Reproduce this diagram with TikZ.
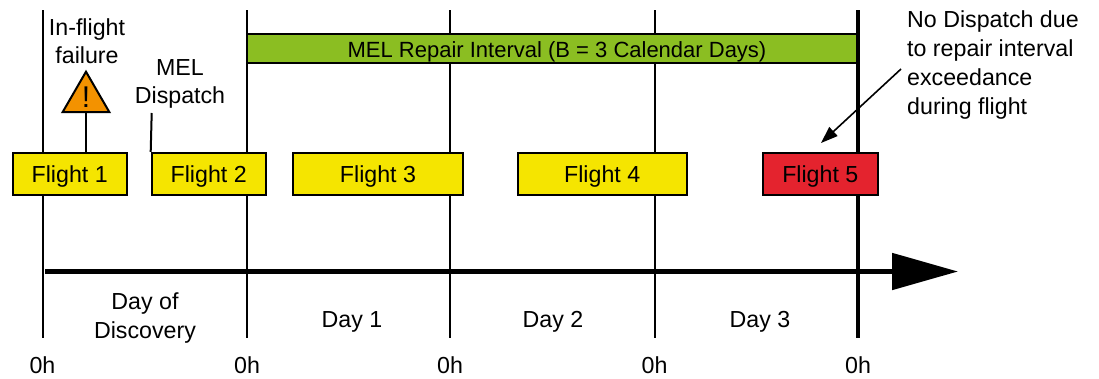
\documentclass[tikz,border=0pt]{standalone}
\usepackage{fontspec}
\setmainfont{Liberation Sans}
\usetikzlibrary{arrows.meta}
\definecolor{flyellow}{RGB}{245,229,0}
\definecolor{mgreen}{RGB}{139,190,34}
\definecolor{fred}{RGB}{228,35,46}
\definecolor{worange}{RGB}{243,146,0}
\begin{document}
\begin{tikzpicture}[x=1pt,y=-1pt,
  lbl/.style={font=\fontsize{23.2}{29}\selectfont, inner sep=0pt, anchor=base},
  flightbox/.style={draw=black, line width=2pt, minimum height=42.3pt, inner sep=0pt,
    font=\fontsize{23.2}{29}\selectfont, text depth=0pt, fill=flyellow},
  dayline/.style={line width=2pt},
  thickline/.style={line width=3.4pt},
  pointer/.style={line width=2pt},
  timeline/.style={line width=5pt, -{Triangle[length=66pt,width=36pt]}},
  callout/.style={line width=1.6pt, -{Triangle[length=17pt,width=12pt]}}
]
\useasboundingbox (0,0) rectangle (1099,378);

% vertical day lines
\coordinate (v0t) at (42.5,10);  \coordinate (v0b) at (42.5,338);
\coordinate (v1t) at (247,10);   \coordinate (v1b) at (247,338);
\coordinate (v2t) at (450,10);   \coordinate (v2b) at (450,338);
\coordinate (v3t) at (654.5,10); \coordinate (v3b) at (654.5,338);
\coordinate (v4t) at (858,10);   \coordinate (v4b) at (858,338);
\draw[dayline] (v0t) -- (v0b);
\draw[dayline] (v1t) -- (v1b);
\draw[dayline] (v2t) -- (v2b);
\draw[dayline] (v3t) -- (v3b);
\draw[thickline] (v4t) -- (v4b);

% timeline
\coordinate (tlstart) at (45,271.5);
\coordinate (tlend) at (958,271.5);
\draw[timeline] (tlstart) -- (tlend);

% repair interval bar
\node[draw=black, line width=2pt, fill=mgreen, minimum width=610pt, minimum height=28.4pt, inner sep=0pt]
  (bar) at (551.7,48.5) {};
\node[lbl, font=\fontsize{22}{28}\selectfont] (barlabel) at (557,57.3) {MEL Repair Interval (B = 3 Calendar Days)};

% flights
\node[flightbox, minimum width=114pt] (f1) at (69.7,174) {Flight 1};
\node[flightbox, minimum width=114pt] (f2) at (208.7,174) {Flight 2};
\node[flightbox, minimum width=169.4pt] (f3) at (378,174) {Flight 3};
\node[flightbox, minimum width=169pt] (f4) at (602.2,174) {Flight 4};
\node[flightbox, minimum width=115.3pt, fill=fred] (f5) at (820.3,174) {Flight 5};

% warning triangle
\coordinate (triapex) at (86,71.7);
\coordinate (trileft) at (62.7,112);
\coordinate (triright) at (109.3,112);
\coordinate (tribase) at (86,112);
\draw[line width=2pt, line join=miter, fill=worange] (triapex) -- (triright) -- (trileft) -- cycle;
\node[inner sep=0pt, anchor=base, font=\fontsize{30}{30}\selectfont] (bang) at (86,107) {!};
\draw[pointer] (tribase) -- (f1.north -| tribase);

% in-flight failure label
\node[lbl] (fail1) at (87,35) {In-flight};
\node[lbl] (fail2) at (87,63) {failure};

% MEL dispatch label
\node[lbl] (mel1) at (180,75) {MEL};
\node[lbl] (mel2) at (180,103.5) {Dispatch};
\coordinate (meltail) at (151.7,113);
\draw[pointer] (meltail) -- (f2.north west);

% no dispatch callout
\node[lbl, anchor=base west] (nd1) at (907,27) {No Dispatch due};
\node[lbl, anchor=base west] (nd2) at (907,56) {to repair interval};
\node[lbl, anchor=base west] (nd3) at (907,85) {exceedance};
\node[lbl, anchor=base west] (nd4) at (907,114) {during flight};
\coordinate (ndtail) at (901,69);
\coordinate (ndtip) at (821,143);
\draw[callout] (ndtail) -- (ndtip);

% day labels
\node[lbl] (d0a) at (145,309) {Day of};
\node[lbl] (d0b) at (145,338) {Discovery};
\node[lbl] (d1) at (352,327.5) {Day 1};
\node[lbl] (d2) at (553,327.5) {Day 2};
\node[lbl] (d3) at (760,327.5) {Day 3};

% hour labels
\node[lbl] (h0) at (42.5,373.5) {0h};
\node[lbl] (h1) at (247,373.5) {0h};
\node[lbl] (h2) at (450,373.5) {0h};
\node[lbl] (h3) at (654.5,373.5) {0h};
\node[lbl] (h4) at (858,373.5) {0h};
\end{tikzpicture}
\end{document}
